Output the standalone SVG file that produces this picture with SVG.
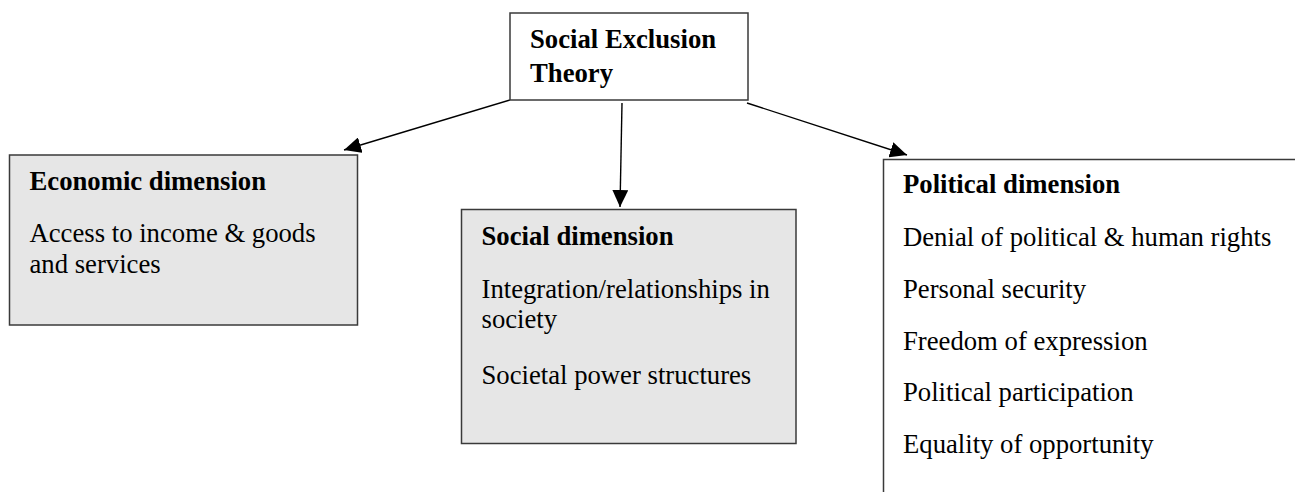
<svg xmlns="http://www.w3.org/2000/svg" width="1295" height="492" viewBox="0 0 1295 492">
  <style>
    .box { stroke: #3a3a3a; stroke-width: 1.5; }
    .grey { fill: #e6e6e6; }
    .white { fill: #ffffff; }
    text { font-family: "Liberation Serif", "Times New Roman", serif; font-size: 26.7px; fill: #000; }
    .title { font-weight: bold; }
    .link { stroke: #000; stroke-width: 1.4; fill: none; marker-end: url(#arrow); }
  </style>
  <defs>
    <marker id="arrow" markerUnits="userSpaceOnUse" markerWidth="18" markerHeight="16" refX="17" refY="8" orient="auto">
      <path d="M0,0 L17,8 L0,16 Z" fill="#000"/>
    </marker>
  </defs>
  <rect width="1295" height="492" fill="#ffffff"/>

  <g id="connectors">
    <line class="link" x1="510" y1="100" x2="344" y2="150"/>
    <line class="link" x1="622" y1="103" x2="620" y2="207"/>
    <line class="link" x1="747" y1="103" x2="907" y2="155"/>
  </g>

  <g id="theory">
    <rect class="box white" x="510" y="13" width="238" height="87"/>
    <text class="title" x="530" y="48">Social Exclusion</text>
    <text class="title" x="530" y="82">Theory</text>
  </g>

  <g id="economic">
    <rect class="box grey" x="9.5" y="155" width="348" height="170"/>
    <text class="title" x="29.5" y="190">Economic dimension</text>
    <text x="29.5" y="242">Access to income &amp; goods</text>
    <text x="29.5" y="273">and services</text>
  </g>

  <g id="social">
    <rect class="box grey" x="461.5" y="209.5" width="334.5" height="234"/>
    <text class="title" x="481.5" y="245">Social dimension</text>
    <text x="481.5" y="298">Integration/relationships in</text>
    <text x="481.5" y="328">society</text>
    <text x="481.5" y="384">Societal power structures</text>
  </g>

  <g id="political">
    <rect class="box white" x="883.5" y="159.5" width="430" height="360"/>
    <text class="title" x="903" y="193">Political dimension</text>
    <text x="903" y="246">Denial of political &amp; human rights</text>
    <text x="903" y="298">Personal security</text>
    <text x="903" y="350">Freedom of expression</text>
    <text x="903" y="401">Political participation</text>
    <text x="903" y="453">Equality of opportunity</text>
  </g>
</svg>
